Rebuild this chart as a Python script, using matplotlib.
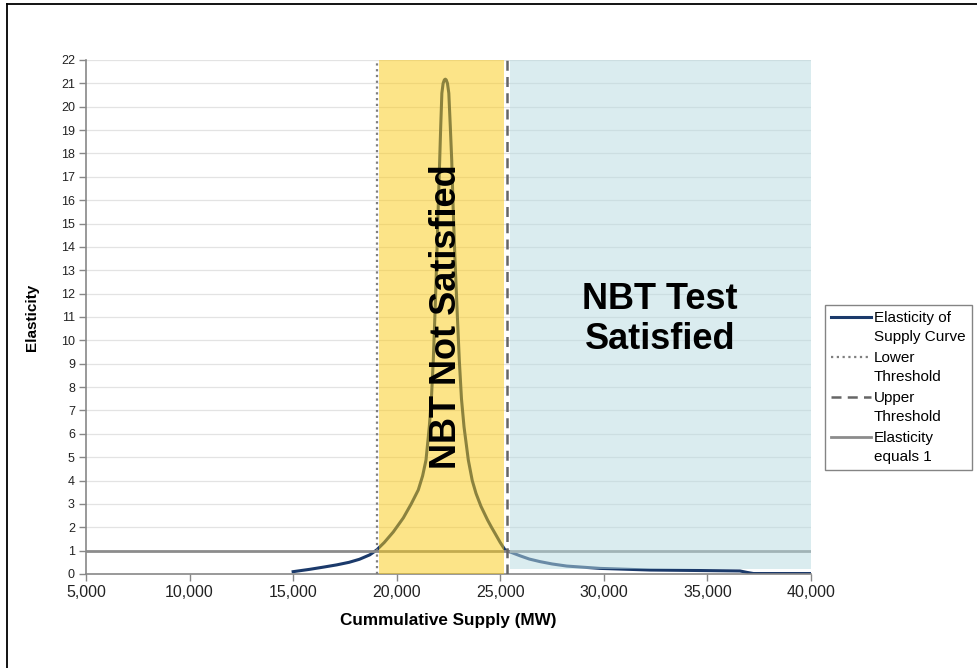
import matplotlib.pyplot as plt
from matplotlib.lines import Line2D
from matplotlib.legend_handler import HandlerLine2D

plt.rcParams['font.family'] = ['Liberation Sans', 'DejaVu Sans']

# Elasticity of supply curve
supply_mw = [15000, 15800, 16500, 17100, 17700, 18200, 18700, 19034, 19400, 19835,
             20318, 20700, 21042, 21250, 21414, 21573, 21680, 21766, 21850, 21931,
             22000, 22075, 22124, 22180, 22240, 22300, 22346, 22390, 22450, 22515,
             22587, 22655, 22730, 22814, 22920, 23021, 23126, 23249, 23456, 23646,
             23828, 24066, 24386, 24576, 24745, 24996, 25228, 25600, 25952, 26400,
             26918, 27500, 28207, 29814, 32228, 34500, 36573, 36900, 37220, 40000]
elasticity = [0.10, 0.20, 0.30, 0.39, 0.50, 0.63, 0.82, 1.03, 1.35, 1.80,
              2.40, 3.00, 3.60, 4.20, 4.88, 6.30, 7.60, 9.16, 11.2, 13.44,
              15.6, 17.72, 19.15, 20.58, 21.0, 21.15, 21.18, 21.15, 21.0, 20.58,
              19.15, 17.72, 15.5, 13.44, 11.2, 9.16, 7.50, 6.30, 4.88, 4.00,
              3.45, 2.90, 2.31, 2.00, 1.74, 1.35, 1.03, 0.90, 0.78, 0.64,
              0.53, 0.43, 0.34, 0.24, 0.17, 0.15, 0.13, 0.07, 0.02, 0.02]

lower_threshold = 19050
upper_threshold = 25340
not_satisfied_band = (19140, 25160)
satisfied_band = (25470, 40000)
satisfied_floor = 0.2

x_ticks = [5000, 10000, 15000, 20000, 25000, 30000, 35000, 40000]
y_ticks = list(range(0, 23))


class TopLineHandler(HandlerLine2D):
    # put the legend line level with the first line of a two-line label
    def create_artists(self, legend, orig_handle, xdescent, ydescent, width, height,
                       fontsize, trans):
        artists = super().create_artists(legend, orig_handle, xdescent, ydescent,
                                         width, height, fontsize, trans)
        for a in artists:
            a.set_ydata([y + 0.7 * fontsize for y in a.get_ydata()])
        return artists


fig = plt.figure(figsize=(9.77, 6.68), dpi=100)
ax = fig.add_axes([86 / 977, 1 - 574 / 668, (811 - 86) / 977, (574 - 60) / 668])

# gridlines
for y in y_ticks[1:]:
    ax.axhline(y, color='#e3e3e3', lw=0.9, zorder=1)

curve, = ax.plot(supply_mw, elasticity, color='#1b3a6b', lw=2.2, zorder=2,
                 solid_joinstyle='round', label='Elasticity of\nSupply Curve')
one_line = ax.axhline(1, color='#8c8c8c', lw=2.0, zorder=2, label='Elasticity\nequals 1')

# shaded bands drawn over the curve
ax.fill_between(not_satisfied_band, 0, 22, color='#fbcb13', alpha=0.5, lw=0, zorder=3)
ax.fill_between(satisfied_band, satisfied_floor, 22, color='#b7dbe1', alpha=0.5, lw=0, zorder=3)

lower = ax.axvline(lower_threshold, color='#7f7f7f', lw=1.6, ls=(0, (1, 1.6)), zorder=4,
                   label='Lower\nThreshold')
upper = ax.axvline(upper_threshold, color='#666666', lw=1.8, ls=(0, (4, 2.5)), zorder=4,
                   label='Upper\nThreshold')

ax.text(22420, 11.0, 'NBT Not Satisfied', rotation=90, ha='center', va='center',
        fontsize=26, fontweight='bold', zorder=5)
ax.text(32710, 10.9, 'NBT Test\nSatisfied', ha='center', va='center',
        fontsize=26, fontweight='bold', zorder=5)

ax.set_xlim(5000, 40000)
ax.set_ylim(0, 22)
ax.set_xticks(x_ticks)
ax.set_xticklabels([f'{v:,}' for v in x_ticks], fontsize=11.5, color='#222222')
ax.set_yticks(y_ticks)
ax.set_yticklabels([str(v) for v in y_ticks], fontsize=9, color='#222222')
ax.tick_params(axis='both', direction='out', length=5, color='#888888', width=1)
ax.tick_params(axis='x', pad=3)
ax.tick_params(axis='y', pad=3)

for side in ['top', 'right']:
    ax.spines[side].set_visible(False)
for side in ['left', 'bottom']:
    ax.spines[side].set_color('#888888')
    ax.spines[side].set_linewidth(1.2)

ax.set_xlabel('Cummulative Supply (MW)', fontsize=12.3, fontweight='bold', labelpad=9)
ax.set_ylabel('Elasticity', fontsize=11, fontweight='bold', labelpad=16)

leg = ax.legend(handles=[curve, lower, upper, one_line], loc='upper left',
                bbox_to_anchor=(825 / 977, 1 - 305 / 668), bbox_transform=fig.transFigure,
                fontsize=11, frameon=True, fancybox=False, borderaxespad=0,
                handlelength=2.6, handletextpad=0.2, labelspacing=0.45,
                borderpad=0.4, handler_map={Line2D: TopLineHandler()})
for t in leg.get_texts():
    t.set_linespacing(1.45)
leg.get_frame().set_edgecolor('#666666')
leg.get_frame().set_linewidth(1.0)

# slide frame edges
fig.add_artist(Line2D([7 / 977, 1], [1 - 4 / 668, 1 - 4 / 668], color='black', lw=1.3,
                      transform=fig.transFigure))
fig.add_artist(Line2D([7 / 977, 7 / 977], [0, 1 - 4 / 668], color='black', lw=1.3,
                      transform=fig.transFigure))

fig.savefig('out.png', dpi=100)
